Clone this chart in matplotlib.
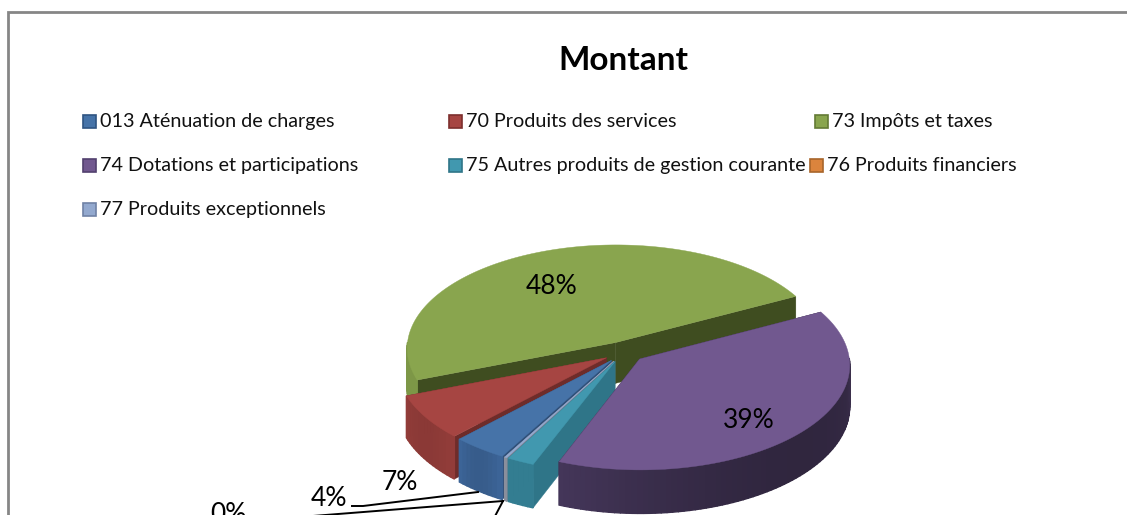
import numpy as np
import matplotlib
matplotlib.use('Agg')
import matplotlib.pyplot as plt
from matplotlib.patches import Polygon, Rectangle

plt.rcParams['font.family'] = ['Lato', 'DejaVu Sans']

title = 'Montant'
categories = ['013 Aténuation de charges', '70 Produits des services', '73 Impôts et taxes',
              '74 Dotations et participations', '75 Autres produits de gestion courante',
              '76 Produits financiers', '77 Produits exceptionnels']
percents = [4.0, 7.0, 48.2, 38.6, 2.0, 0.02, 0.18]
colors_top = ['#4673a8', '#a64542', '#89a54e', '#71588f', '#4198af', '#db843d', '#93a9cf']
colors_side = ['#3a6192', '#8f3b38', '#7d9747', '#3a2e4c', '#337d91', '#9a9a9a', '#8a8f9c']
colors_cut = ['#2f4f78', '#6e2c2a', '#3f4d20', '#2c233a', '#2f7588', '#8a8a8a', '#7a8090']
colors_edge = ['#2f5482', '#7d2f2d', '#637a35', '#52406e', '#2f7588', '#a8652a', '#6f82a5']
gradient = [0.10, 0.06, 0.0, 0.36, 0.0, 0.0, 0.0]

# projection of the pie disc, in pixels
cx, cy = 624, 352
rx, ry = 209, 104
depth = 41
explode = 0.1
persp = 0.055
first_angle = 240.5


def project(x, y, drop=0.0):
    s = 1 / (1 - persp * y)
    return cx + rx * x * s, cy + ry * y * s + drop * depth * s


def rim(ox, oy, t, drop=0.0):
    # t in degrees, counter clockwise on screen
    return project(ox + np.cos(np.radians(t)), oy - np.sin(np.radians(t)), drop)


def shade(color, t, a0, a1, amount):
    # walls get darker in the middle, like the office gradient
    c = np.array(matplotlib.colors.to_rgb(color))
    f = (t - a0) / max(a1 - a0, 1e-6)
    return tuple(np.clip(c * (1 + amount / 2 - amount * np.sin(np.pi * f)), 0, 1))


fig = plt.figure(figsize=(11.27, 5.15), dpi=100)
ax = fig.add_axes([0, 0, 1, 1])
ax.set_xlim(0, 1127)
ax.set_ylim(515, 0)
ax.axis('off')

# chart frame
ax.add_patch(Rectangle((8, 12), 1300, 700, fc='white', ec='#868686', lw=2))

ax.text(623, 61, title, fontsize=24, fontweight='bold', ha='center', va='center')

# legend, laid out by hand
legend_marks = [(83, 121), (449, 121), (815, 121), (83, 165), (449, 165), (810, 165), (83, 209)]
for (lx, ly), name, col, edge in zip(legend_marks, categories, colors_top, colors_edge):
    ax.add_patch(Rectangle((lx, ly - 6), 13, 12.5, fc=col, ec=edge, lw=1.2))
    ax.text(lx + 17, ly + 6, name, fontsize=14.2, ha='left', va='baseline', color='#111111')

# slices run clockwise from first_angle
angles = []
a = first_angle
for p in percents:
    angles.append((a - p * 3.6, a))
    a -= p * 3.6

# back to front so the exploded slices overlap properly
draw_order = [2, 1, 0, 5, 6, 4, 3]
for i in draw_order:
    a0, a1 = angles[i]
    mid = np.radians((a0 + a1) / 2)
    ox, oy = explode * np.cos(mid), -explode * np.sin(mid)
    apex_top = project(ox, oy)
    apex_bot = project(ox, oy, 1)

    # cut faces
    for t in (a0, a1):
        quad = [apex_top, rim(ox, oy, t), rim(ox, oy, t, 1), apex_bot]
        ax.add_patch(Polygon(quad, fc=colors_cut[i], ec=colors_cut[i], lw=0.3))

    # outer wall, in strips for the gradient, only the part facing the viewer
    ts = np.linspace(a0, a1, max(int((a1 - a0) / 1.5) + 2, 2))
    for t0, t1 in zip(ts[:-1], ts[1:]):
        if np.sin(np.radians((t0 + t1) / 2)) > 0:
            continue
        col = shade(colors_side[i], (t0 + t1) / 2, a0, a1, gradient[i])
        quad = [rim(ox, oy, t0), rim(ox, oy, t1), rim(ox, oy, t1, 1), rim(ox, oy, t0, 1)]
        ax.add_patch(Polygon(quad, fc=col, ec=col, lw=1.0))

    # top face
    ts = np.linspace(a0, a1, max(int(a1 - a0) + 2, 2))
    pts = [apex_top] + [rim(ox, oy, t) for t in ts]
    ax.add_patch(Polygon(pts, fc=colors_top[i], ec=colors_top[i], lw=0.3))

# percent labels
label_pos = [(329, 498), (400, 483), (552, 286), (749, 420), None, None, (228, 514)]
for p, pos in zip(percents, label_pos):
    if pos is not None:
        ax.text(pos[0], pos[1], f'{round(p)}%', fontsize=19, ha='center', va='center', color='black')

# leader lines
ax.plot([352, 363, 478], [506, 506, 492], color='black', lw=1.4)
ax.plot([262, 503], [520, 501], color='black', lw=1.4)
ax.plot([503, 493], [501, 520], color='black', lw=1.4)

fig.savefig('out.png', dpi=100)
